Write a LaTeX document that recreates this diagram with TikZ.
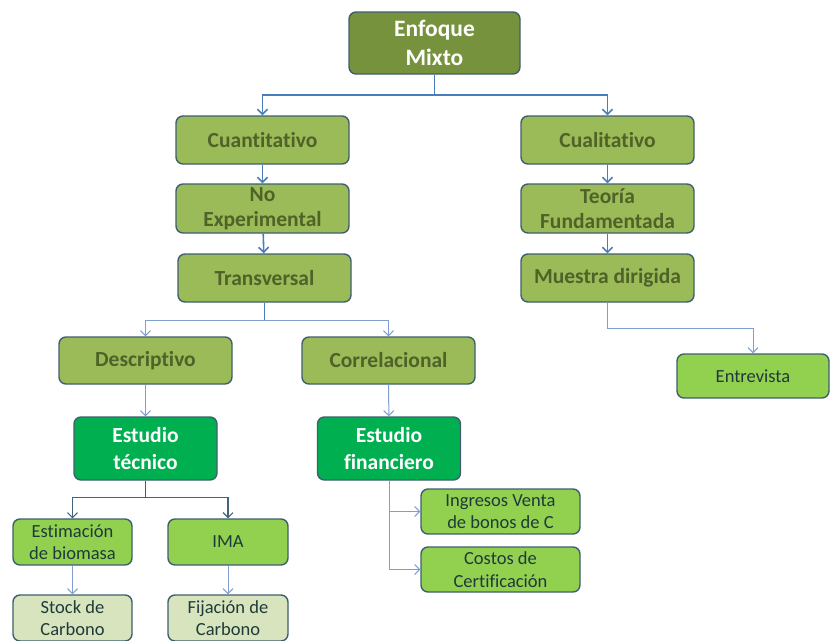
\documentclass[tikz,border=0pt]{standalone}
\usepackage{fontspec}
\setmainfont[Ligatures=NoCommon]{Carlito}
\usetikzlibrary{arrows.meta,calc}
\definecolor{darkol}{HTML}{76923C}
\definecolor{olive}{HTML}{9BBB59}
\definecolor{olivetxt}{HTML}{4F6228}
\definecolor{brightg}{HTML}{00B050}
\definecolor{limeg}{HTML}{92D050}
\definecolor{paleg}{HTML}{D7E4BD}
\definecolor{edge}{HTML}{3F5F6F}
\definecolor{lnk}{HTML}{4A7EBB}
\definecolor{lnklight}{HTML}{7F9FCF}
\definecolor{leaftxt}{HTML}{1F3A3A}
\tikzset{
  box/.style={draw=edge, line width=1.4pt, rounded corners=7pt, align=center, inner sep=0pt},
  topbox/.style={box, fill=darkol, text=white, font=\fontsize{23.5}{29}\selectfont\bfseries, minimum width=171pt, minimum height=62pt},
  olbox/.style={box, fill=olive, text=olivetxt, font=\fontsize{21.5}{25}\selectfont\bfseries, minimum width=173pt, minimum height=48pt},
  grbox/.style={box, fill=brightg, text=white, font=\fontsize{21.5}{27}\selectfont\bfseries, minimum width=143pt, minimum height=63pt},
  limebox/.style={box, fill=limeg, text=leaftxt, font=\fontsize{18.5}{22.5}\selectfont},
  palebox/.style={box, fill=paleg, text=leaftxt, font=\fontsize{18.5}{22.5}\selectfont},
  conn/.style={draw=lnk, line width=1.6pt, -{Straight Barb[length=5pt,width=10pt]}},
  connl/.style={draw=lnklight, line width=1pt, -{Straight Barb[length=5pt,width=10pt]}},
  plain/.style={draw=lnk, line width=1.6pt}
}
\begin{document}
\begin{tikzpicture}[x=1pt,y=-1pt]
\useasboundingbox (0,0) rectangle (830,640);
\node[topbox] (mix) at (434.5,43) {Enfoque\\Mixto};
\node[olbox] (cuan) at (262.5,140) {Cuantitativo};
\node[olbox, minimum height=49pt] (noexp) at (262.5,208.5) {No\\Experimental};
\node[olbox] (trans) at (264.5,278) {Transversal};
\node[olbox] (cual) at (607.5,140) {Cualitativo};
\node[olbox, minimum height=49pt] (teor) at (607.5,208.5) {Teoría\\Fundamentada};
\node[olbox] (mues) at (607.5,278) {Muestra dirigida};
\node[limebox, minimum width=152pt, minimum height=44pt] (entr) at (753,376) {Entrevista};
\node[olbox, minimum height=47pt] (desc) at (145.5,360.5) {Descriptivo};
\node[olbox, minimum height=47pt] (corr) at (388.5,360.5) {Correlacional};
\node[grbox] (etec) at (145.5,448.5) {Estudio\\técnico};
\node[grbox] (efin) at (389,448.5) {Estudio\\financiero};
\node[limebox, minimum width=119pt, minimum height=46pt] (esti) at (72.5,542) {Estimación\\de biomasa};
\node[limebox, minimum width=120pt, minimum height=46pt] (ima) at (228,542) {IMA};
\node[palebox, minimum width=119pt, minimum height=46pt] (stock) at (72.5,618) {Stock de\\Carbono};
\node[palebox, minimum width=120pt, minimum height=46pt] (fija) at (228,618) {Fijación de\\Carbono};
\node[limebox, minimum width=159pt, minimum height=45pt] (ingr) at (500.5,511.5) {Ingresos Venta\\de bonos de C};
\node[limebox, minimum width=159pt, minimum height=45pt] (cost) at (500.5,569.5) {Costos de\\Certificación};
% connectors
\coordinate (j1) at ($(mix.south)+(0,20)$);
\coordinate (j2) at ($(trans.south)+(0,18)$);
\coordinate (j3) at ($(etec.south)+(0,17)$);
\coordinate (j4) at ($(mues.south)+(0,26)$);
\draw[plain] (mix.south) -- (j1);
\draw[conn] (j1) -| (cuan.north);
\draw[conn] (j1) -| (cual.north);
\draw[conn] (cuan) -- (noexp);
\draw[conn] (noexp) -- (trans);
\draw[conn] (cual) -- (teor);
\draw[conn] (teor) -- (mues);
\draw[connl] (mues.south) -- (j4) -| (entr.north);
\draw[plain, line width=1.2pt] (trans.south) -- (j2);
\draw[connl] (j2) -| (desc.north);
\draw[connl] (j2) -| (corr.north);
\draw[connl] (desc) -- (etec);
\draw[connl] (corr) -- (efin);
\draw[plain, line width=1.3pt, draw=edge] (etec.south) -- (j3);
\draw[conn, line width=1.1pt, draw=edge!80!lnk] (j3) -| (esti.north);
\draw[conn, line width=1.1pt, draw=edge!80!lnk] (j3) -| (ima.north);
\draw[connl] (esti) -- (stock);
\draw[connl] (ima) -- (fija);
\draw[connl] (efin.south) |- (ingr.west);
\draw[connl] (efin.south) |- (cost.west);
\end{tikzpicture}
\end{document}
